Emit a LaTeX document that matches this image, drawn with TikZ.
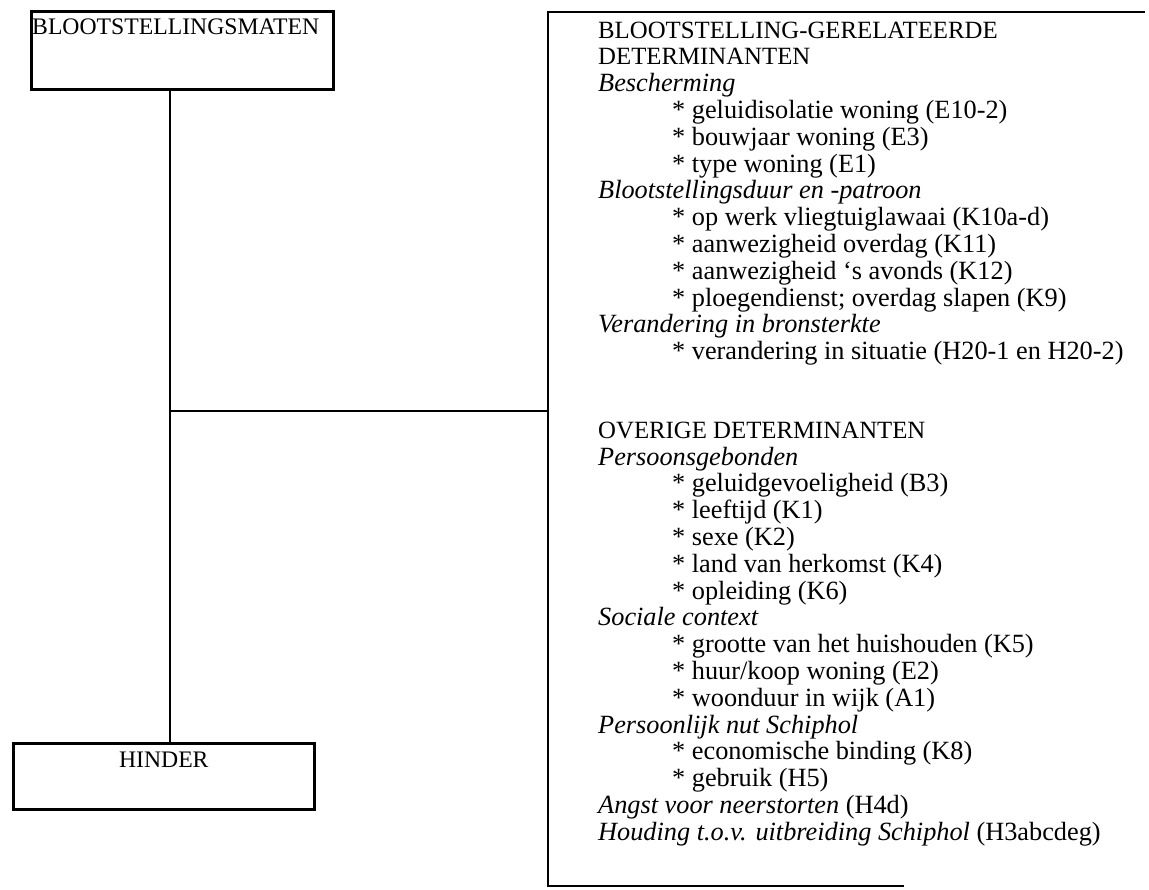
\documentclass[tikz,border=0pt]{standalone}
\usepackage{fontspec}
\setmainfont{Liberation Serif}
\usepackage{tikz}

\newcommand{\ster}{\hspace*{74pt}* }
\newcommand{\kop}[1]{{\fontsize{24.8}{26.8}\selectfont #1}}

\begin{document}
\begin{tikzpicture}[x=1pt, y=-1pt, every node/.style={font=\fontsize{23.7}{26.8}\selectfont, inner sep=0pt}]
    \tikzset{
        kader/.style={draw, line width=2.6pt, anchor=north west},
        lijn/.style={line width=2.2pt},
        tekst/.style={anchor=north west, align=left, font=\fontsize{26.3}{26.8}\selectfont}
    }
    \useasboundingbox (0,0) rectangle (1149,890);

    % Linker kaders
    \node[kader, minimum width=302pt, minimum height=78pt] (maten) at (30,10) {};
    \node[anchor=base west] (matentekst) at (32,35) {BLOOTSTELLINGSMATEN};
    \node[kader, minimum width=301pt, minimum height=66pt] (hinder) at (12,742) {};
    \node[anchor=base] (hindertekst) at (hinder.north |- 0,767) {HINDER};

    % Rechter kader (rechts open)
    \coordinate (detNO) at (1145,12);
    \coordinate (detNW) at (548,12);
    \coordinate (detZW) at (548,886);
    \coordinate (detZO) at (904,886);
    \draw[line width=2.6pt] (detNO) -- (detNW) -- (detZW) -- (detZO);

    % Verbindingen
    \coordinate (knoop) at (170,411);
    \draw[lijn] (maten.south -| knoop) -- (hinder.north -| knoop);
    \draw[lijn] (knoop) -- (knoop -| detNW);

    % Determinanten
    \node[tekst] (blootdet) at (598,18) {\rule{0pt}{20pt}\kop{BLOOTSTELLING-GERELATEERDE}\\
        \kop{DETERMINANTEN}\\
        \textit{Bescherming}\\
        \ster geluidisolatie woning (E10-2)\\
        \ster bouwjaar woning (E3)\\
        \ster type woning (E1)\\
        \textit{Blootstellingsduur en -patroon}\\
        \ster op werk vliegtuiglawaai (K10a-d)\\
        \ster aanwezigheid overdag (K11)\\
        \ster aanwezigheid ‘s avonds (K12)\\
        \ster ploegendienst; overdag slapen (K9)\\
        \textit{Verandering in bronsterkte}\\
        \ster verandering in situatie (H20-1 en H20-2)};
    \node[tekst] (overdet) at (598,418) {\rule{0pt}{20pt}\kop{OVERIGE DETERMINANTEN}\\
        \textit{Persoonsgebonden}\\
        \ster geluidgevoeligheid (B3)\\
        \ster leeftijd (K1)\\
        \ster sexe (K2)\\
        \ster land van herkomst (K4)\\
        \ster opleiding (K6)\\
        \textit{Sociale context}\\
        \ster grootte van het huishouden (K5)\\
        \ster huur/koop woning (E2)\\
        \ster woonduur in wijk (A1)\\
        \textit{Persoonlijk nut Schiphol}\\
        \ster economische binding (K8)\\
        \ster gebruik (H5)\\
        \textit{Angst voor neerstorten} (H4d)\\
        \textit{Houding t.o.v. uitbreiding Schiphol} (H3abcdeg)};
\end{tikzpicture}
\end{document}
